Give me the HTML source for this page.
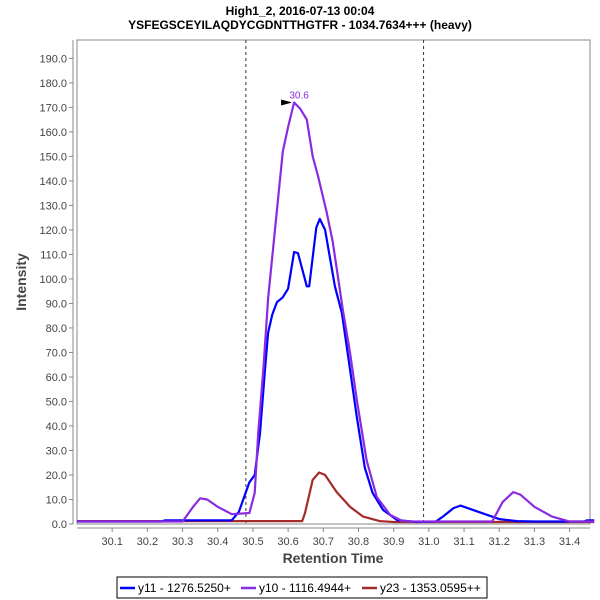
<!DOCTYPE html>
<html><head><meta charset="utf-8">
<style>
body{margin:0;background:#fff;font-family:"Liberation Sans",sans-serif;}
svg{display:block}
</style></head>
<body>
<svg id="chart" width="600" height="600" viewBox="0 0 600 600">
<rect width="600" height="600" fill="#fff"/>
<text x="300" y="15" text-anchor="middle" font-size="12" font-weight="bold" fill="#000">High1_2, 2016-07-13 00:04</text>
<text x="300" y="29" text-anchor="middle" font-size="12" font-weight="bold" fill="#000">YSFEGSCEYILAQDYCGDNTTHGTFR - 1034.7634+++ (heavy)</text>
<rect x="77" y="40" width="513" height="484" fill="#fff" stroke="#888"/>
<g id="yaxis"></g>
<g id="xaxis"></g>
<g id="marks"></g>
<text x="26" y="282" text-anchor="middle" font-size="14" font-weight="bold" fill="#444" transform="rotate(-90 26 282)">Intensity</text>
<text x="333" y="563" text-anchor="middle" font-size="14" font-weight="bold" fill="#444">Retention Time</text>
<g>
<rect x="117" y="577" width="370" height="21" fill="#fff" stroke="#000"/>
<line x1="120" y1="588" x2="135" y2="588" stroke="#0000ff" stroke-width="2.5"/>
<text x="138" y="592" font-size="12" fill="#000">y11 - 1276.5250+</text>
<line x1="241" y1="588" x2="256" y2="588" stroke="#8a2be2" stroke-width="2.5"/>
<text x="259" y="592" font-size="12" fill="#000">y10 - 1116.4944+</text>
<line x1="362" y1="588" x2="377" y2="588" stroke="#a52a2a" stroke-width="2.5"/>
<text x="380" y="592" font-size="12" fill="#000">y23 - 1353.0595++</text>
</g>
</svg>
<script>
const xTicks=[30.1,30.2,30.3,30.4,30.5,30.6,30.7,30.8,30.9,31.0,31.1,31.2,31.3,31.4];
const yTicks=[0,10,20,30,40,50,60,70,80,90,100,110,120,130,140,150,160,170,180,190];
const boundaries=[30.48,30.985];
const y11T=[30.0,30.24,30.25,30.44,30.46,30.49,30.505,30.52,30.535,30.543,30.555,30.568,30.585,30.6,30.617,30.628,30.653,30.66,30.68,30.69,30.705,30.733,30.753,30.775,30.795,30.818,30.84,30.87,30.91,30.965,31.02,31.04,31.07,31.09,31.12,31.16,31.2,31.25,31.3,31.44,31.45,31.47];
const y11V=[1,1,1.5,1.5,5,17,20,37,64,78,85.5,90.5,92.5,96,111,110.5,97,97,121,124.5,120,97,86,64,44,23,12.7,5.7,1.6,0.8,1,3,6.5,7.5,6,4,2,1.2,1,1,1.5,1.5];
const y10T=[30.0,30.3,30.33,30.35,30.37,30.4,30.44,30.49,30.505,30.515,30.53,30.543,30.585,30.6,30.617,30.634,30.653,30.67,30.685,30.71,30.727,30.755,30.776,30.795,30.823,30.852,30.89,30.925,30.96,31.18,31.21,31.24,31.26,31.3,31.35,31.4,31.47];
const y10V=[1,1,7,10.5,10,7,4,4.5,12.7,37,64,92,152,162,172,169.5,165,150,142,127,115,88,70,51,26,11,3.7,1.2,1,1,9,13,12,7,3,1,1];
const y23T=[30.0,30.64,30.648,30.67,30.688,30.705,30.738,30.776,30.813,30.86,30.9,31.47];
const y23V=[1.2,1.2,4.5,18,21,20,13,7,3,1.2,0.8,0.8];
const apexT=30.617, apexV=172, apexLabel="30.6";
const X0=30.0,X1=31.458,L=77,R=590,B=524,T=40,YMAX=197.5;
const sx=t=>L+(t-X0)/(X1-X0)*(R-L);
const sy=v=>B-v/YMAX*(B-T);
const NS="http://www.w3.org/2000/svg";
function mk(tag,attrs,parent){const e=document.createElementNS(NS,tag);for(const k in attrs)e.setAttribute(k,attrs[k]);parent.appendChild(e);return e;}
const ya=document.getElementById('yaxis'),xa=document.getElementById('xaxis'),mg=document.getElementById('marks');
mk('line',{x1:73,y1:T,x2:73,y2:B,stroke:'#888'},ya);
yTicks.forEach(v=>{
 const l=mk('line',{x1:69,y1:sy(v),x2:73,y2:sy(v),stroke:'#888'},ya);
 
 
 const t=mk('text',{x:67,y:sy(v)+4,'text-anchor':'end','font-size':'11',fill:'#444'},ya);
 t.textContent=v.toFixed(1);
 
 
});
mk('line',{x1:L,y1:528,x2:R,y2:528,stroke:'#888'},xa);
xTicks.forEach(v=>{
 const l=mk('line',{x1:sx(v),y1:528,x2:sx(v),y2:532,stroke:'#888'},xa);
 
 
 const t=mk('text',{x:sx(v),y:545,'text-anchor':'middle','font-size':'11',fill:'#444'},xa);
 t.textContent=v.toFixed(1);
 
 
});
boundaries.forEach(b=>{
 const l=mk('line',{x1:sx(b),y1:T,x2:sx(b),y2:B,stroke:'#333','stroke-dasharray':'3,3'},mg);
 
 
});
function series(ts,vs,color,name){
 const p=mk('polyline',{points:ts.map((t,i)=>sx(t).toFixed(1)+','+sy(vs[i]).toFixed(1)).join(' '),fill:'none',stroke:color,'stroke-width':'2.2','stroke-linejoin':'round'},mg);
 
 
}
series(y23T,y23V,'#a52a2a','series-y23');
series(y11T,y11V,'#0000ff','series-y11');
series(y10T,y10V,'#8a2be2','series-y10');
const ax=sx(apexT),ay=sy(apexV);
const arr=mk('polygon',{points:`${ax-2},${ay} ${ax-13},${ay-3} ${ax-13},${ay+3}`,fill:'#000'},mg);


const at=mk('text',{x:ax+5,y:ay-4,'text-anchor':'middle','font-size':'10',fill:'#8a2be2'},mg);
at.textContent=apexLabel;


</script>
</body></html>
